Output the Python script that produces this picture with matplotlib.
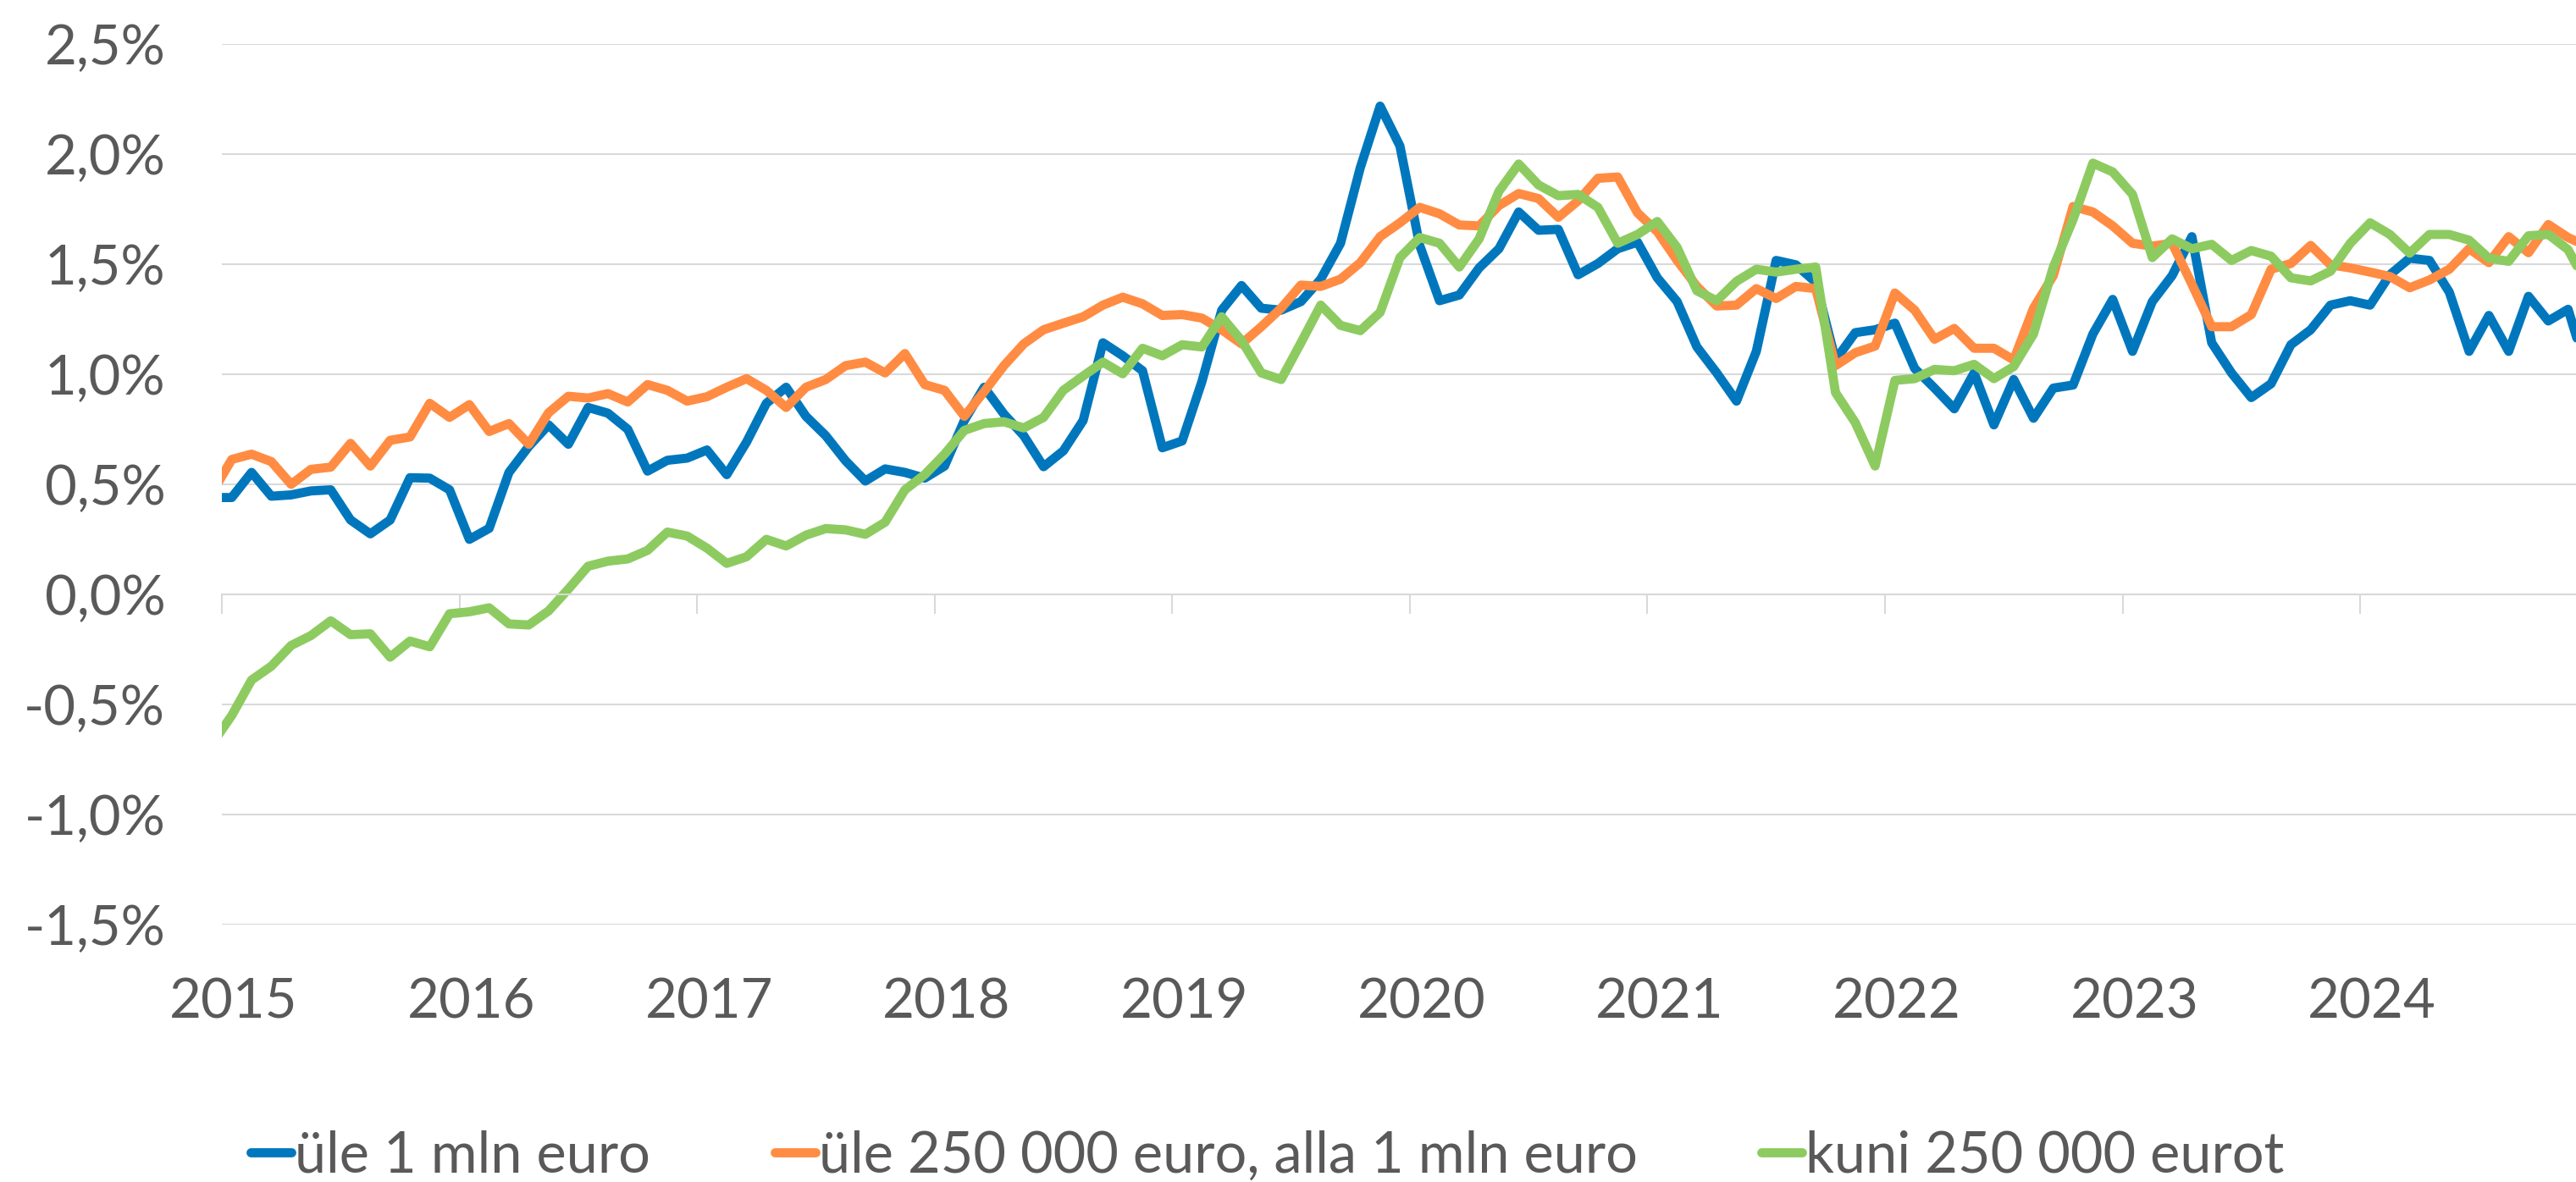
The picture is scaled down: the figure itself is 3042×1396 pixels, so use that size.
import numpy as np
import matplotlib
matplotlib.use("Agg")
import matplotlib.pyplot as plt

plt.rcParams['font.family'] = ['Lato', 'DejaVu Sans']

# monthly values, Dec 2014 .. Dec 2024 (percent)
over_1m = [0.44,
    0.44, 0.554, 0.446, 0.452, 0.47, 0.475, 0.338, 0.275, 0.338, 0.53, 0.528, 0.475,
    0.25, 0.30, 0.554, 0.672, 0.77, 0.682, 0.849, 0.823, 0.75, 0.56, 0.609, 0.619,
    0.656, 0.544, 0.692, 0.868, 0.941, 0.809, 0.721, 0.607, 0.515, 0.57, 0.554, 0.528,
    0.583, 0.79, 0.941, 0.819, 0.721, 0.58, 0.652, 0.79, 1.143, 1.084, 1.016, 0.666,
    0.697, 0.967, 1.291, 1.403, 1.30, 1.291, 1.33, 1.432, 1.595, 1.939, 2.218, 2.037,
    1.585, 1.334, 1.36, 1.483, 1.57, 1.737, 1.654, 1.658, 1.452, 1.503, 1.57, 1.60,
    1.438, 1.33, 1.124, 1.006, 0.878, 1.104, 1.517, 1.497, 1.418, 1.065, 1.189, 1.202,
    1.232, 1.026, 0.937, 0.843, 1.006, 0.77, 0.976, 0.80, 0.937, 0.951, 1.183, 1.34,
    1.104, 1.33, 1.448, 1.625, 1.143, 1.006, 0.894, 0.957, 1.134, 1.202, 1.314, 1.334,
    1.314, 1.452, 1.527, 1.517, 1.373, 1.104, 1.267, 1.104, 1.354, 1.242, 1.295, 1.0]

over_250k = [0.46,
    0.613, 0.637, 0.603, 0.50, 0.568, 0.578, 0.686, 0.583, 0.70, 0.715, 0.868, 0.804,
    0.862, 0.74, 0.776, 0.682, 0.825, 0.90, 0.892, 0.912, 0.874, 0.953, 0.927, 0.878,
    0.898, 0.941, 0.98, 0.927, 0.849, 0.941, 0.976, 1.039, 1.055, 1.006, 1.094, 0.953,
    0.927, 0.809, 0.921, 1.039, 1.138, 1.202, 1.232, 1.261, 1.314, 1.35, 1.32, 1.267,
    1.271, 1.255, 1.202, 1.138, 1.216, 1.30, 1.405, 1.399, 1.432, 1.507, 1.625, 1.688,
    1.758, 1.729, 1.678, 1.674, 1.766, 1.821, 1.798, 1.713, 1.788, 1.89, 1.896, 1.733,
    1.648, 1.517, 1.399, 1.31, 1.314, 1.389, 1.344, 1.399, 1.389, 1.039, 1.098, 1.128,
    1.369, 1.291, 1.159, 1.208, 1.118, 1.118, 1.065, 1.30, 1.448, 1.762, 1.737, 1.674,
    1.595, 1.582, 1.595, 1.409, 1.216, 1.216, 1.271, 1.477, 1.503, 1.585, 1.497, 1.483,
    1.464, 1.444, 1.393, 1.428, 1.477, 1.57, 1.507, 1.625, 1.552, 1.68, 1.621, 1.58]

upto_250k = [-0.68,
    -0.55, -0.389, -0.326, -0.232, -0.187, -0.12, -0.183, -0.179, -0.285, -0.212, -0.238, -0.088,
    -0.079, -0.061, -0.134, -0.139, -0.075, 0.024, 0.128, 0.151, 0.161, 0.20, 0.283, 0.265,
    0.21, 0.141, 0.171, 0.25, 0.22, 0.269, 0.299, 0.293, 0.273, 0.328, 0.475, 0.544,
    0.637, 0.745, 0.776, 0.784, 0.756, 0.804, 0.927, 0.992, 1.055, 1.002, 1.118, 1.084,
    1.134, 1.124, 1.261, 1.153, 1.006, 0.976, 1.143, 1.314, 1.222, 1.198, 1.281, 1.53,
    1.621, 1.595, 1.487, 1.615, 1.831, 1.955, 1.86, 1.811, 1.817, 1.758, 1.595, 1.635,
    1.694, 1.576, 1.379, 1.334, 1.422, 1.477, 1.464, 1.477, 1.487, 0.917, 0.78, 0.583,
    0.972, 0.98, 1.022, 1.016, 1.045, 0.98, 1.035, 1.183, 1.487, 1.703, 1.959, 1.919,
    1.817, 1.53, 1.615, 1.57, 1.59, 1.517, 1.562, 1.536, 1.438, 1.424, 1.468, 1.595,
    1.688, 1.635, 1.55, 1.635, 1.635, 1.609, 1.527, 1.513, 1.629, 1.635, 1.566, 1.40]

series_names = ["üle 1 mln euro", "üle 250 000 euro, alla 1 mln euro", "kuni 250 000 eurot"]
colors = ["#0077bd", "#ff8c42", "#8dcb61"]

years = [2015, 2016, 2017, 2018, 2019, 2020, 2021, 2022, 2023, 2024]
y_ticks = [-1.5, -1.0, -0.5, 0.0, 0.5, 1.0, 1.5, 2.0, 2.5]
y_labels = ["-1,5%", "-1,0%", "-0,5%", "0,0%", "0,5%", "1,0%", "1,5%", "2,0%", "2,5%"]

# months since Jan 2015, points sit mid-month
months = np.arange(-1, len(over_1m) - 1) + 0.5
year_pos = [(y - 2015) * 12 for y in years]

grey = "#d9d9d9"
txt = "#595959"

fig = plt.figure(figsize=(30.42, 13.96), dpi=100)
ax = fig.add_axes([262 / 3042, 1 - 1092 / 1396, 1 - 262 / 3042, 1040 / 1396])

for vals, name, c in zip([over_1m, over_250k, upto_250k], series_names, colors):
    ax.plot(months, vals, color=c, lw=7.8, label=name,
            solid_joinstyle="round", solid_capstyle="round")

ax.set_xlim(0, 118.9)
ax.set_ylim(-1.5, 2.5)
ax.set_yticks(y_ticks, y_labels)
ax.grid(axis="y", color=grey, lw=1.5)
ax.set_axisbelow(True)
ax.tick_params(axis="y", length=0, pad=48, labelsize=47, labelcolor=txt)

for s in ["left", "right", "top"]:
    ax.spines[s].set_visible(False)
ax.spines["bottom"].set_position(("data", 0))
ax.spines["bottom"].set_color(grey)
ax.spines["bottom"].set_linewidth(1.5)
ax.set_xticks(year_pos)
ax.tick_params(axis="x", direction="out", length=16.5, width=1.5, color=grey,
               labelbottom=False)

# year labels along the bottom of the plot
sec = ax.secondary_xaxis(0)
sec.set_xticks([p + 0.6 for p in year_pos], [str(y) for y in years])
sec.tick_params(length=0, pad=45, labelsize=47, labelcolor=txt)
sec.spines["bottom"].set_visible(False)

fig.legend(loc="center", bbox_to_anchor=(0.492, 0.022), ncol=3, frameon=False,
           fontsize=48, labelcolor=txt, handlelength=0.72, handletextpad=0.06,
           columnspacing=2.2, borderpad=0.1)

fig.savefig("out.png", dpi=100)
